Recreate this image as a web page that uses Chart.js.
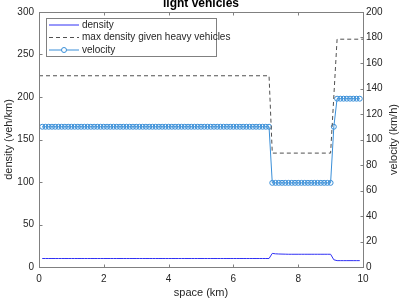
<!DOCTYPE html>
<html lang="en">
<head>
<meta charset="UTF-8">
<title>light vehicles</title>
<script src="https://cdn.jsdelivr.net/npm/chart.js@4.4.0/dist/chart.umd.min.js"></script>
<style>
  body { margin: 0; background: #fff; }
  #wrap { width: 400px; height: 300px; }
</style>
</head>
<body>
<div id="wrap"><canvas id="chart" width="400" height="300"></canvas></div>
<script>
// cell positions along the road (km)
const spaceKm = [
  0.1, 0.2, 0.3, 0.4, 0.5, 0.6, 0.7, 0.8, 0.9, 1.0,
  1.1, 1.2, 1.3, 1.4, 1.5, 1.6, 1.7, 1.8, 1.9, 2.0,
  2.1, 2.2, 2.3, 2.4, 2.5, 2.6, 2.7, 2.8, 2.9, 3.0,
  3.1, 3.2, 3.3, 3.4, 3.5, 3.6, 3.7, 3.8, 3.9, 4.0,
  4.1, 4.2, 4.3, 4.4, 4.5, 4.6, 4.7, 4.8, 4.9, 5.0,
  5.1, 5.2, 5.3, 5.4, 5.5, 5.6, 5.7, 5.8, 5.9, 6.0,
  6.1, 6.2, 6.3, 6.4, 6.5, 6.6, 6.7, 6.8, 6.9, 7.0,
  7.1, 7.2, 7.3, 7.4, 7.5, 7.6, 7.7, 7.8, 7.9, 8.0,
  8.1, 8.2, 8.3, 8.4, 8.5, 8.6, 8.7, 8.8, 8.9, 9.0,
  9.1, 9.2, 9.3, 9.4, 9.5, 9.6, 9.7, 9.8, 9.9
];
// density (veh/km), left axis
const density = [
  10, 10, 10, 10, 10, 10, 10, 10, 10, 10,
  10, 10, 10, 10, 10, 10, 10, 10, 10, 10,
  10, 10, 10, 10, 10, 10, 10, 10, 10, 10,
  10, 10, 10, 10, 10, 10, 10, 10, 10, 10,
  10, 10, 10, 10, 10, 10, 10, 10, 10, 10,
  10, 10, 10, 10, 10, 10, 10, 10, 10, 10,
  10, 10, 10, 10, 10, 10, 10, 10, 10, 10,
  10, 16, 15.5, 15.3, 15.2, 15.1, 15, 15, 15, 15,
  15, 15, 15, 15, 15, 15, 15, 15, 15, 15,
  8.5, 7.5, 7.5, 7.5, 7.5, 7.5, 7.5, 7.5, 7.5
];
// velocity (km/h), right axis
const velocity = [
  110, 110, 110, 110, 110, 110, 110, 110, 110, 110,
  110, 110, 110, 110, 110, 110, 110, 110, 110, 110,
  110, 110, 110, 110, 110, 110, 110, 110, 110, 110,
  110, 110, 110, 110, 110, 110, 110, 110, 110, 110,
  110, 110, 110, 110, 110, 110, 110, 110, 110, 110,
  110, 110, 110, 110, 110, 110, 110, 110, 110, 110,
  110, 110, 110, 110, 110, 110, 110, 110, 110, 110,
  110, 66, 66, 66, 66, 66, 66, 66, 66, 66,
  66, 66, 66, 66, 66, 66, 66, 66, 66, 66,
  110, 132, 132, 132, 132, 132, 132, 132, 132
];
// max density given heavy vehicles (veh/km)
const maxDensityX = [0, 7.1, 7.2, 9.0, 9.2, 10];
const maxDensityY = [225, 225, 134, 134, 268, 268];

const xTicks = [0, 2, 4, 6, 8, 10];
const leftTicks = [0, 50, 100, 150, 200, 250, 300];
const rightTicks = [0, 20, 40, 60, 80, 100, 120, 140, 160, 180, 200];

const FONT = 'Liberation Sans, Arial, Helvetica, sans-serif';
const AXIS = '#808080';
const TXT = '#262626';

function pts(xs, ys) {
  return xs.map((x, i) => ({ x: x, y: ys[i] }));
}

// MATLAB style box, inward ticks, titles and legend
const matlabLook = {
  id: 'matlabLook',
  afterDraw(chart) {
    const ctx = chart.ctx;
    const a = chart.chartArea;
    const sx = chart.scales.x, sy = chart.scales.y, sy2 = chart.scales.y2;
    const L = Math.round(a.left) + 0.5, R = Math.round(a.right) + 0.5;
    const T = Math.round(a.top) + 0.5, B = Math.round(a.bottom) + 0.5;
    ctx.save();
    ctx.strokeStyle = AXIS;
    ctx.lineWidth = 1;
    ctx.strokeRect(L, T, R - L, B - T);
    ctx.beginPath();
    xTicks.forEach(v => {
      const px = Math.round(sx.getPixelForValue(v)) + 0.5;
      ctx.moveTo(px, B); ctx.lineTo(px, B - 3);
      ctx.moveTo(px, T); ctx.lineTo(px, T + 3);
    });
    leftTicks.forEach(v => {
      const py = Math.round(sy.getPixelForValue(v)) + 0.5;
      ctx.moveTo(L, py); ctx.lineTo(L + 3, py);
    });
    rightTicks.forEach(v => {
      const py = Math.round(sy2.getPixelForValue(v)) + 0.5;
      ctx.moveTo(R, py); ctx.lineTo(R - 3, py);
    });
    ctx.stroke();

    // titles
    ctx.fillStyle = '#000';
    ctx.textAlign = 'center';
    ctx.textBaseline = 'alphabetic';
    ctx.font = 'bold 12px ' + FONT;
    ctx.fillText('light vehicles', (a.left + a.right) / 2, 7);
    ctx.fillStyle = TXT;
    ctx.font = '11px ' + FONT;
    ctx.fillText('space (km)', (a.left + a.right) / 2, 296);
    const midY = (a.top + a.bottom) / 2;
    ctx.save();
    ctx.translate(9, midY);
    ctx.rotate(-Math.PI / 2);
    ctx.textBaseline = 'middle';
    ctx.fillText('density (veh/km)', 0, 0);
    ctx.restore();
    ctx.save();
    ctx.translate(394, midY);
    ctx.rotate(-Math.PI / 2);
    ctx.textBaseline = 'middle';
    ctx.fillText('velocity (km/h)', 0, 0);
    ctx.restore();

    // legend
    const bx = 46.5, by = 18.5, bw = 170, bh = 38;
    ctx.fillStyle = '#fff';
    ctx.fillRect(bx, by, bw, bh);
    ctx.strokeStyle = AXIS;
    ctx.strokeRect(bx, by, bw, bh);
    const ds = chart.data.datasets;
    const rows = [25, 37.5, 50];
    ctx.font = '10px ' + FONT;
    ctx.textAlign = 'left';
    ctx.textBaseline = 'middle';
    ds.forEach((d, i) => {
      const y = rows[i];
      ctx.strokeStyle = d.borderColor;
      ctx.lineWidth = 1;
      ctx.setLineDash(d.borderDash || []);
      ctx.beginPath();
      ctx.moveTo(49, y); ctx.lineTo(79, y);
      ctx.stroke();
      ctx.setLineDash([]);
      if (d.pointRadius > 0) {
        ctx.beginPath();
        ctx.arc(64, y, d.pointRadius, 0, Math.PI * 2);
        ctx.fillStyle = '#fff';
        ctx.fill();
        ctx.stroke();
      }
      ctx.fillStyle = TXT;
      ctx.fillText(d.label, 82, y);
    });
    ctx.restore();
  }
};

new Chart(document.getElementById('chart'), {
  type: 'line',
  data: {
    datasets: [
      {
        label: 'density',
        data: pts(spaceKm, density),
        yAxisID: 'y',
        borderColor: '#3030f5',
        borderWidth: 1,
        pointRadius: 0,
        tension: 0
      },
      {
        label: 'max density given heavy vehicles',
        data: pts(maxDensityX, maxDensityY),
        yAxisID: 'y',
        borderColor: '#505050',
        borderWidth: 1,
        borderDash: [4, 3],
        pointRadius: 0,
        tension: 0
      },
      {
        label: 'velocity',
        data: pts(spaceKm, velocity),
        yAxisID: 'y2',
        borderColor: '#3a8fd8',
        borderWidth: 1,
        pointRadius: 2.5,
        pointBorderWidth: 1,
        pointBackgroundColor: 'rgba(0,0,0,0)',
        pointBorderColor: '#3a8fd8',
        tension: 0
      }
    ]
  },
  options: {
    responsive: false,
    animation: false,
    events: [],
    layout: { padding: { top: 12, left: 0, right: 0, bottom: 0 } },
    plugins: { legend: { display: false }, title: { display: false }, tooltip: { enabled: false } },
    scales: {
      x: {
        type: 'linear', min: 0, max: 10,
        afterBuildTicks: s => { s.ticks = xTicks.map(v => ({ value: v })); },
        afterFit: s => { s.height = 33; },
        grid: { display: false, drawTicks: false },
        border: { display: false },
        ticks: { color: TXT, font: { family: FONT, size: 10 }, padding: 6, maxRotation: 0 }
      },
      y: {
        position: 'left', min: 0, max: 300,
        afterBuildTicks: s => { s.ticks = leftTicks.map(v => ({ value: v })); },
        afterFit: s => { s.width = 39; },
        grid: { display: false, drawTicks: false },
        border: { display: false },
        ticks: { color: TXT, font: { family: FONT, size: 10 }, padding: 5 }
      },
      y2: {
        position: 'right', min: 0, max: 200,
        afterBuildTicks: s => { s.ticks = rightTicks.map(v => ({ value: v })); },
        afterFit: s => { s.width = 37; },
        grid: { display: false, drawTicks: false },
        border: { display: false },
        ticks: { color: TXT, font: { family: FONT, size: 10 }, padding: 3 }
      }
    }
  },
  plugins: [matlabLook]
});
</script>
</body>
</html>
